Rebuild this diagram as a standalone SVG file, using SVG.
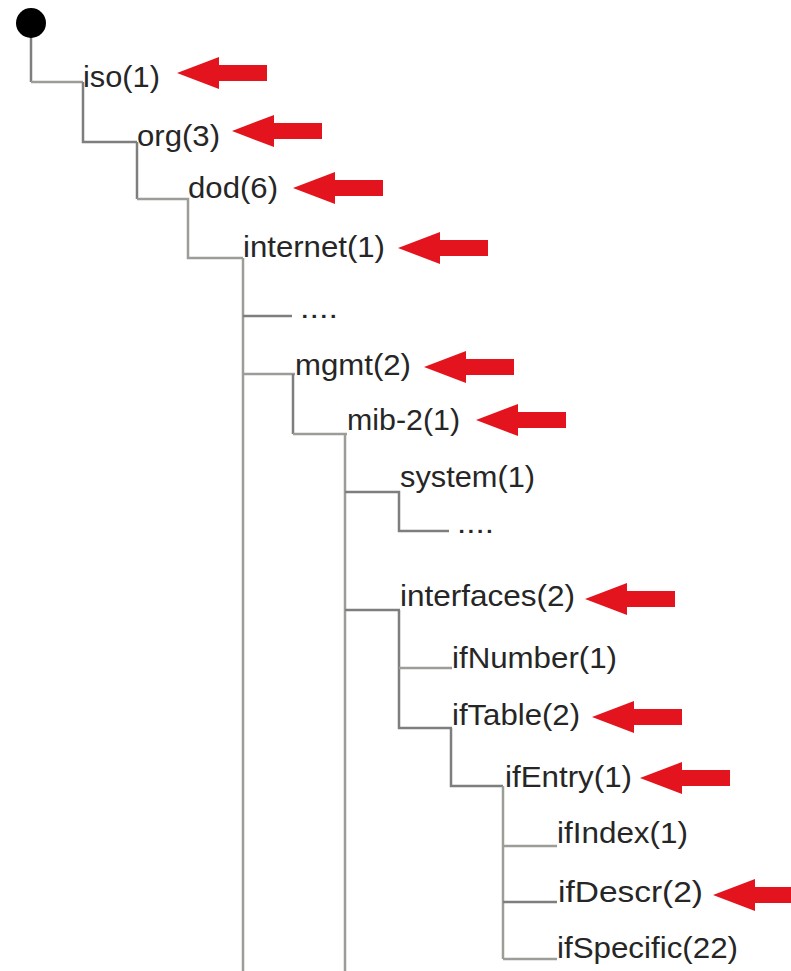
<svg xmlns="http://www.w3.org/2000/svg" width="791" height="971" viewBox="0 0 791 971">
<style>
.t{font-family:"Liberation Sans",Arial,sans-serif;font-size:29px;fill:#262626}
.c{fill:none;stroke:#9c9c98;stroke-width:2.5}
.d{fill:none;stroke:#7e7e7e;stroke-width:2.5}
.a{fill:#e3141d}
</style>
<defs>
<path id="arr" d="M0,0 L42,-16 L42,-8 L90,-8 L90,8 L42,8 L42,16 Z"/>
</defs>
<rect width="791" height="971" fill="#ffffff"/>
<g id="connectors">
<path class="d" d="M31,23 V82"/>
<path class="c" d="M31,82 H83"/>
<path class="d" d="M83,82 V142 H137"/>
<path class="d" d="M137,142 V199"/>
<path class="c" d="M137,199 H188 V258 H243"/>
<path class="c" d="M243,258 V971"/>
<path class="d" d="M243,316 H292"/>
<path class="c" d="M243,374 H295"/>
<path class="d" d="M293,374 V434"/>
<path class="c" d="M293,434 H347"/>
<path class="c" d="M345,434 V971"/>
<path class="d" d="M345,492 H399 V531 H449"/>
<path class="d" d="M345,610 H400"/>
<path class="d" d="M399,610 V728 H452"/>
<path class="c" d="M399,668 H452"/>
<path class="d" d="M451,728 V786 H503"/>
<path class="c" d="M503,786 V959"/>
<path class="c" d="M503,846 H557"/>
<path class="d" d="M503,902 H557"/>
<path class="c" d="M503,959 H557"/>
</g>
<g id="root"><circle cx="31" cy="23" r="15" fill="#000"/></g>
<g id="iso"><text class="t" x="83" y="87" textLength="77" lengthAdjust="spacingAndGlyphs">iso(1)</text><use href="#arr" class="a" x="177" y="73"/></g>
<g id="org"><text class="t" x="137" y="146" textLength="83" lengthAdjust="spacingAndGlyphs">org(3)</text><use href="#arr" class="a" x="232" y="131"/></g>
<g id="dod"><text class="t" x="188" y="198" textLength="90" lengthAdjust="spacingAndGlyphs">dod(6)</text><use href="#arr" class="a" x="293" y="188"/></g>
<g id="internet"><text class="t" x="243" y="257" textLength="142" lengthAdjust="spacingAndGlyphs">internet(1)</text><use href="#arr" class="a" x="398" y="248"/></g>
<g id="dots1"><text class="t" x="300" y="318" textLength="38" lengthAdjust="spacingAndGlyphs">....</text></g>
<g id="mgmt"><text class="t" x="295" y="375" textLength="116" lengthAdjust="spacingAndGlyphs">mgmt(2)</text><use href="#arr" class="a" x="424" y="367"/></g>
<g id="mib-2"><text class="t" x="347" y="430" textLength="113" lengthAdjust="spacingAndGlyphs">mib-2(1)</text><use href="#arr" class="a" x="476" y="420"/></g>
<g id="system"><text class="t" x="400" y="487" textLength="135" lengthAdjust="spacingAndGlyphs">system(1)</text></g>
<g id="dots2"><text class="t" x="457" y="533" textLength="37" lengthAdjust="spacingAndGlyphs">....</text></g>
<g id="interfaces"><text class="t" x="400" y="606" textLength="175" lengthAdjust="spacingAndGlyphs">interfaces(2)</text><use href="#arr" class="a" x="585" y="599"/></g>
<g id="ifNumber"><text class="t" x="452" y="668" textLength="165" lengthAdjust="spacingAndGlyphs">ifNumber(1)</text></g>
<g id="ifTable"><text class="t" x="452" y="725" textLength="128" lengthAdjust="spacingAndGlyphs">ifTable(2)</text><use href="#arr" class="a" x="592" y="717"/></g>
<g id="ifEntry"><text class="t" x="505" y="787" textLength="127" lengthAdjust="spacingAndGlyphs">ifEntry(1)</text><use href="#arr" class="a" x="640" y="778"/></g>
<g id="ifIndex"><text class="t" x="557" y="843" textLength="131" lengthAdjust="spacingAndGlyphs">ifIndex(1)</text></g>
<g id="ifDescr"><text class="t" x="558" y="902" textLength="145" lengthAdjust="spacingAndGlyphs">ifDescr(2)</text><use href="#arr" class="a" x="713" y="895"/></g>
<g id="ifSpecific"><text class="t" x="557" y="958" textLength="181" lengthAdjust="spacingAndGlyphs">ifSpecific(22)</text></g>
</svg>
